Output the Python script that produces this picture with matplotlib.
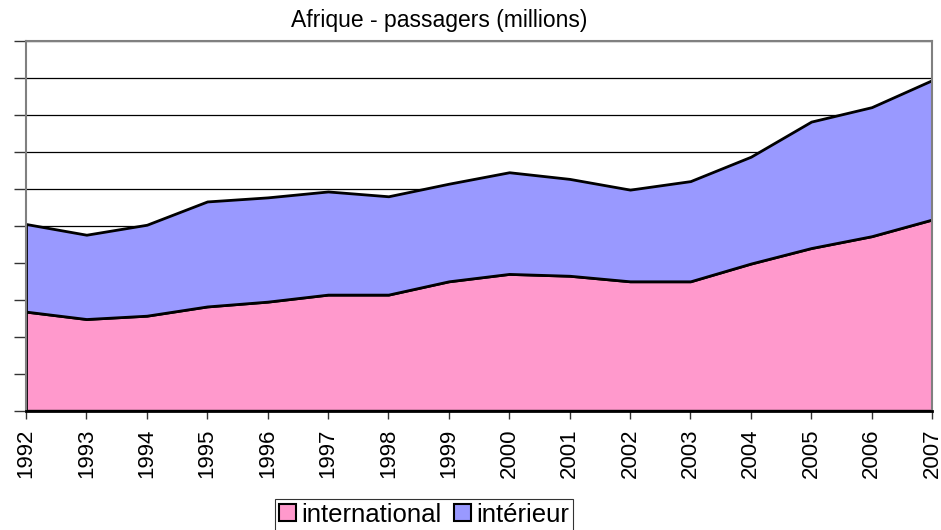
import matplotlib.pyplot as plt
import numpy as np

# Data (y axis has no labels, units are 10 per gridline)
years = [1992, 1993, 1994, 1995, 1996, 1997, 1998, 1999,
         2000, 2001, 2002, 2003, 2004, 2005, 2006, 2007]
international = [26.8, 24.8, 25.7, 28.2, 29.5, 31.4, 31.4, 35.0,
                 37.0, 36.5, 35.0, 35.0, 39.8, 44.0, 47.2, 51.7]
total = [50.5, 47.6, 50.3, 56.6, 57.7, 59.3, 58.0, 61.4,
         64.5, 62.7, 59.8, 62.1, 68.7, 78.2, 82.1, 89.4]
interieur = [t - i for t, i in zip(total, international)]

plt.rcParams['font.family'] = ['Liberation Sans', 'DejaVu Sans']

fig = plt.figure(figsize=(9.41, 5.30), dpi=100)
ax = fig.add_axes([26 / 941, 1 - 410.7 / 530, 906 / 941, 369.7 / 530])

x = np.arange(len(years))
ax.stackplot(x, international, interieur,
             colors=['#FF99CC', '#9999FF'],
             labels=['international', 'intérieur'],
             edgecolor='black', linewidth=2)

ax.set_xlim(0, len(years) - 1)
ax.set_ylim(0, 100)
ax.set_yticks(np.arange(0, 101, 10))
ax.set_yticklabels([])
ax.yaxis.grid(True, color='black', linewidth=0.9)
ax.set_axisbelow(True)

ax.set_xticks(x)
ax.set_xticklabels([str(y) for y in years], rotation=90, fontsize=16)
ax.tick_params(axis='y', length=9, width=1, color='#333333', direction='out')
ax.tick_params(axis='x', length=6, width=1, color='#333333', direction='out', pad=7)

for side in ['top', 'right', 'left']:
    ax.spines[side].set_color('#808080')
    ax.spines[side].set_linewidth(1.5)
ax.spines['bottom'].set_color('black')
ax.spines['bottom'].set_linewidth(2)

fig.text(439 / 941, 1 - 20 / 530, 'Afrique - passagers (millions)',
         ha='center', va='center', fontsize=16.5)

leg = fig.legend(loc='upper center', bbox_to_anchor=(424 / 941, 1 - 499 / 530),
                 ncol=2, fontsize=18.5, frameon=True, fancybox=False,
                 handlelength=0.65, handleheight=0.65, handletextpad=0.2,
                 columnspacing=0.5, borderpad=0.15, borderaxespad=0)
leg.get_frame().set_edgecolor('black')
leg.get_frame().set_linewidth(0.8)
for h in leg.legend_handles:
    h.set_linewidth(1.5)

fig.savefig('out.png', dpi=100)
